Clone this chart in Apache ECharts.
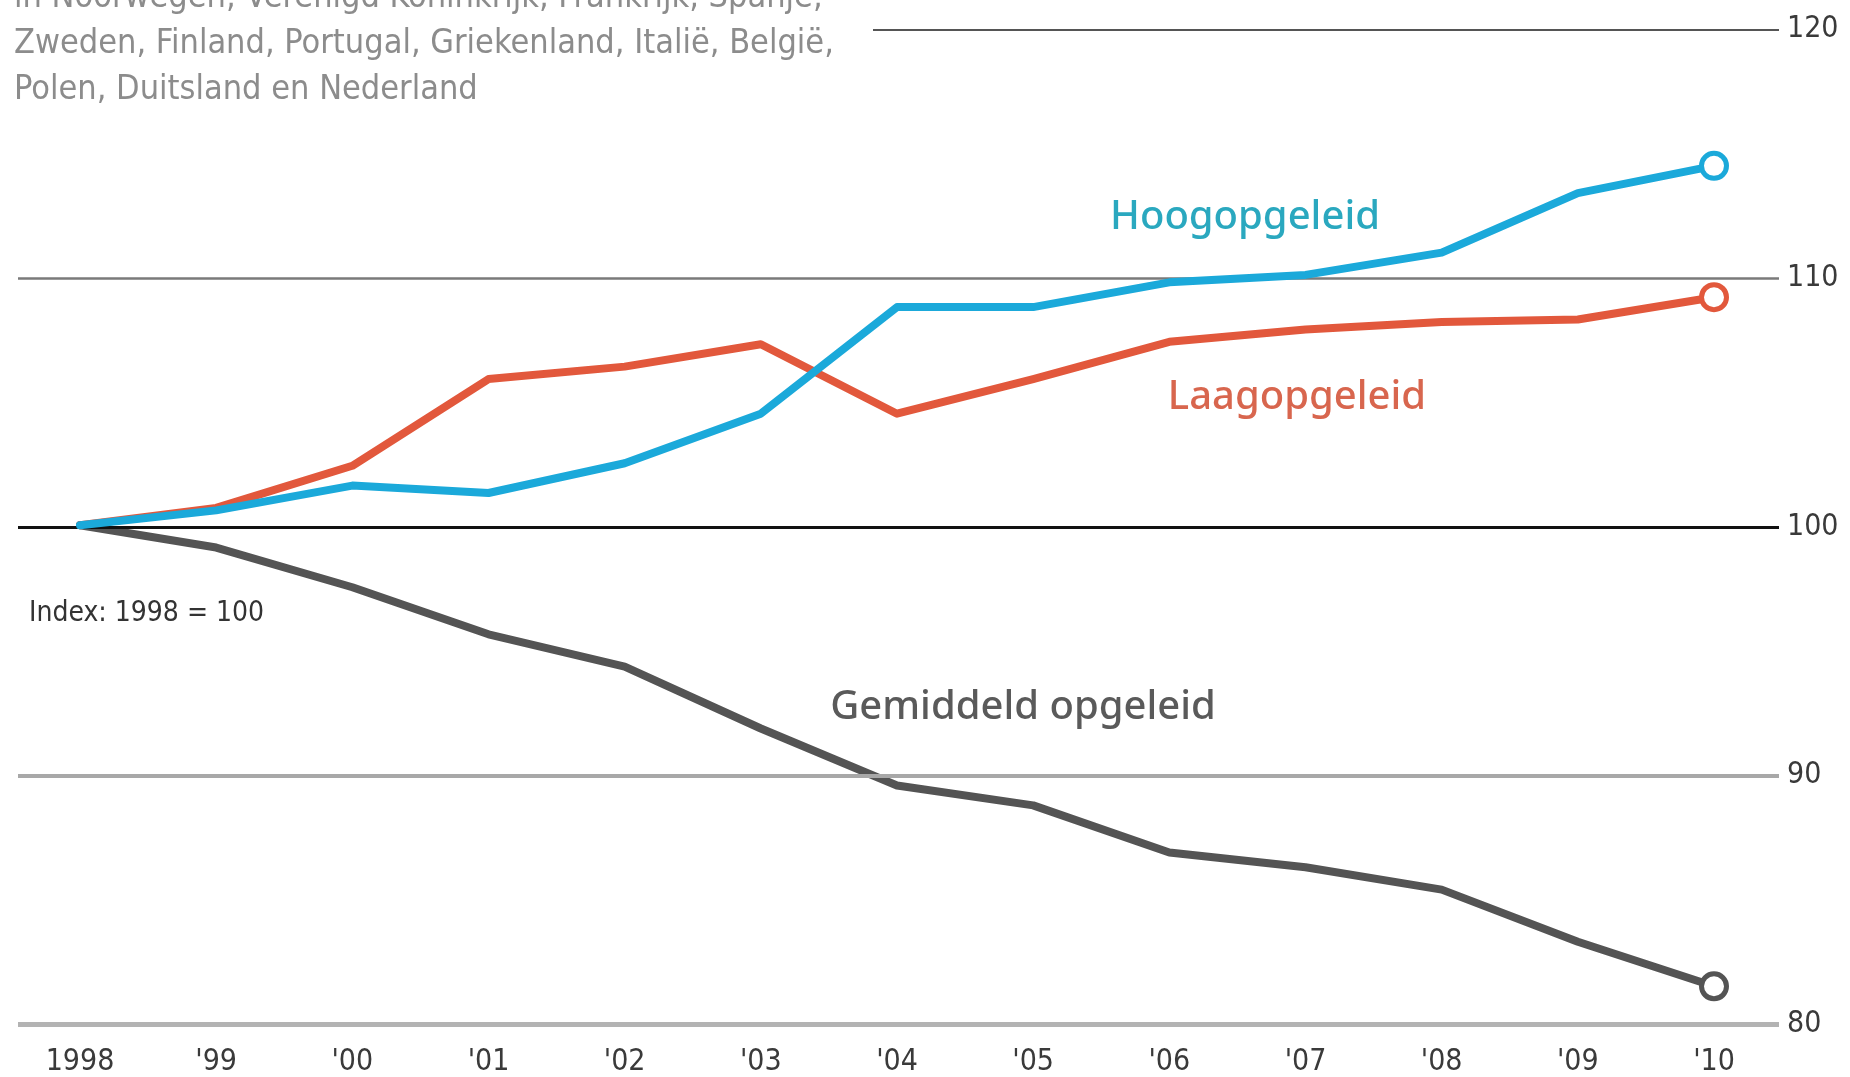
<!DOCTYPE html>
<html>
<head>
<meta charset="utf-8">
<script src="https://cdn.jsdelivr.net/npm/echarts@6/dist/echarts.min.js"></script>
<style>
html,body{margin:0;padding:0;background:#fff;}
#chart{width:1850px;height:1077px;}
</style>
</head>
<body>
<div id="chart"></div>
<script>
const years = ['1998', "'99", "'00", "'01", "'02", "'03", "'04", "'05", "'06", "'07", "'08", "'09", "'10"];
const hoogopgeleid = [100, 100.6, 101.6, 101.3, 102.5, 104.5, 108.8, 108.8, 109.8, 110.1, 111.0, 113.4, 114.5];
const laagopgeleid = [100, 100.7, 102.4, 105.9, 106.4, 107.3, 104.5, 105.9, 107.4, 107.9, 108.2, 108.3, 109.2];
const gemiddeld = [100, 99.1, 97.5, 95.6, 94.3, 91.8, 89.5, 88.7, 86.8, 86.2, 85.3, 83.2, 81.4];
const yTicks = [80, 90, 100, 110, 120];
const descLines = [
  'in Noorwegen, Verenigd Koninkrijk, Frankrijk, Spanje,',
  'Zweden, Finland, Portugal, Griekenland, Italië, België,',
  'Polen, Duitsland en Nederland'
];
const indexNote = 'Index: 1998 = 100';
const seriesNames = ['Hoogopgeleid', 'Laagopgeleid', 'Gemiddeld opgeleid'];

const COND = '"DejaVu Sans Condensed", sans-serif';
const chart = echarts.init(document.getElementById('chart'), null, {renderer: 'canvas'});

function withEndMarker(arr, color) {
  return arr.map((v, i) => i === arr.length - 1
    ? {value: v, symbol: 'circle', symbolSize: 25, itemStyle: {color: '#fff', borderColor: color, borderWidth: 5}}
    : {value: v});
}

function lineSeries(name, data, color, z) {
  return {
    name: name, type: 'line', xAxisIndex: 1, yAxisIndex: 1,
    data: withEndMarker(data, color),
    symbol: 'none', showSymbol: true, smooth: false,
    lineStyle: {color: color, width: 8, join: 'round', cap: 'round'},
    itemStyle: {color: color},
    z: z, silent: true, animation: false
  };
}

const gridStyles = {
  80: {color: '#b3b3b3', width: 5, type: 'solid'},
  90: {color: '#a8a8a8', width: 4, type: 'solid'},
  100: {color: '#111111', width: 3, type: 'solid'},
  110: {color: '#7a7a7a', width: 2.5, type: 'solid'},
  120: {color: '#555555', width: 2, type: 'solid'}
};

const markLines = yTicks.map(t => {
  if (t === 120) {
    return [
      {coord: [855, t], lineStyle: gridStyles[t]},
      {coord: [1761, t]}
    ];
  }
  return {yAxis: t, lineStyle: gridStyles[t]};
});

const option = {
  backgroundColor: '#ffffff',
  animation: false,
  grid: [
    {left: 18, right: 71, top: 29.5, bottom: 53},
    {left: 80, right: 136, top: 29.5, bottom: 53}
  ],
  xAxis: [
    {gridIndex: 0, type: 'value', min: 0, max: 1761, show: false},
    {gridIndex: 1, type: 'category', data: years, boundaryGap: false,
      axisLine: {show: false}, axisTick: {show: false}, splitLine: {show: false},
      axisLabel: {color: '#3a3a3a', fontFamily: COND, fontSize: 30, margin: 26, interval: 0}}
  ],
  yAxis: [
    {gridIndex: 0, type: 'value', min: 80, max: 120, interval: 10, position: 'right',
      axisLine: {show: false}, axisTick: {show: false}, splitLine: {show: false},
      axisLabel: {color: '#3a3a3a', fontFamily: COND, fontSize: 30, margin: 8}},
    {gridIndex: 1, type: 'value', min: 80, max: 120, interval: 10, show: false}
  ],
  series: [
    {type: 'line', xAxisIndex: 0, yAxisIndex: 0, data: [], silent: true, z: 1,
      markLine: {symbol: ['none', 'none'], silent: true, label: {show: false}, animation: false, data: markLines}},
    lineSeries(seriesNames[2], gemiddeld, '#545454', 3),
    lineSeries(seriesNames[1], laagopgeleid, '#e2583c', 4),
    lineSeries(seriesNames[0], hoogopgeleid, '#1ba9da', 5)
  ],
  graphic: [
    {type: 'text', left: 14, top: -25, style: {text: descLines.join('\n'), fill: '#8c8c8c', font: '34px ' + COND, lineHeight: 46}},
    {type: 'text', left: 29, top: 600, style: {text: indexNote, fill: '#333', font: '28px ' + COND}},
    {type: 'text', x: 1245, y: 218, style: {text: seriesNames[0], fill: '#2aa8bf', font: '500 40px "Noto Sans", sans-serif', align: 'center', verticalAlign: 'middle'}},
    {type: 'text', x: 1297, y: 398, style: {text: seriesNames[1], fill: '#d8664e', font: '500 40px "Noto Sans", sans-serif', align: 'center', verticalAlign: 'middle'}},
    {type: 'text', x: 1023, y: 708, style: {text: seriesNames[2], fill: '#5a5a5a', font: '500 40px "Noto Sans", sans-serif', align: 'center', verticalAlign: 'middle'}}
  ]
};
chart.setOption(option);
</script>
</body>
</html>
